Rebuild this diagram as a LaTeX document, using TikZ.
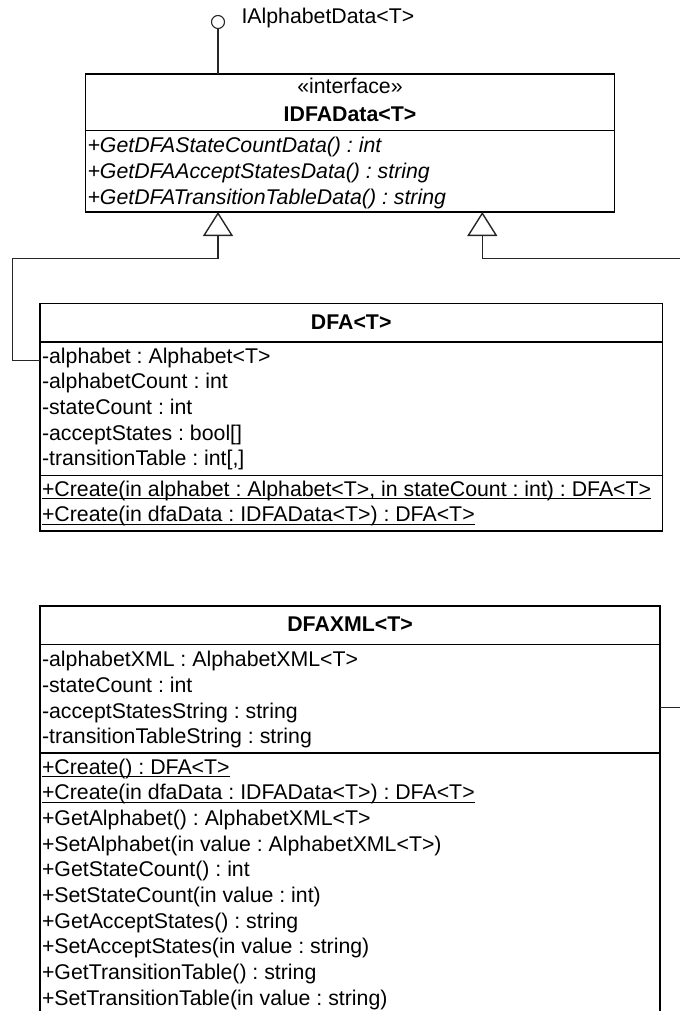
\documentclass[tikz,border=0pt]{standalone}
\usepackage{fontspec}
\setmainfont{Liberation Sans}
\usetikzlibrary{arrows.meta}
\newcommand\stat[1]{\setbox0\hbox{#1}\rlap{\rule[-3.3pt]{\wd0}{1.1pt}}\box0}
\frenchspacing
\begin{document}
\begin{tikzpicture}[x=1pt,y=-1pt,
  box/.style={draw=black, line width=1.6pt, inner sep=0pt, outer sep=0pt, anchor=north west},
  txt/.style={anchor=base west, inner sep=0pt, outer sep=0pt, font=\fontsize{21.3pt}{25pt}\selectfont},
  ttl/.style={anchor=base, inner sep=0pt, outer sep=0pt, font=\fontsize{21.3pt}{25pt}\selectfont\bfseries},
  stereo/.style={anchor=base, inner sep=0pt, outer sep=0pt, font=\fontsize{21.3pt}{25pt}\selectfont},
  itxt/.style={txt, font=\fontsize{21.3pt}{25pt}\selectfont\itshape},
  sep/.style={line width=1.6pt},
  conn/.style={line width=1.1pt, draw=black!85},
  gen/.style={conn, -{Triangle[open, length=24pt, width=30pt, line width=1.4pt]}}
]
\useasboundingbox (0,0) rectangle (680,1011);
\clip (0,0) rectangle (680,1011);

% ---------- IDFAData ----------
\node[box, minimum width=529pt, minimum height=138pt] (idfa) at (85.5,74) {};
\draw[sep] (85.5,130.7) -- (614.5,130.7);
\node[stereo] (idfas) at (350,93.3) {«interface»};
\node[ttl] (idfat) at (350,121.7) {IDFAData<T>};
\node[itxt] (im1) at (87.5,152.7) {+GetDFAStateCountData() : int};
\node[itxt] (im2) at (87.5,178.4) {+GetDFAAcceptStatesData() : string};
\node[itxt] (im3) at (87.5,204.1) {+GetDFATransitionTableData() : string};

% lollipop
\node[draw=black!85, circle, minimum size=13pt, inner sep=0pt, line width=1.1pt] (lol) at (218,22) {};
\node[txt] (lbl) at (241.5,24) {IAlphabetData<T>};
\draw[conn] (lol.south) -- (lol.south |- idfa.north);

% ---------- DFA ----------
\node[box, minimum width=622.5pt, minimum height=227.7pt] (dfa) at (40,303.3) {};
\draw[sep] (40,341.7) -- (662.5,341.7);
\draw[sep] (40,475.3) -- (662.5,475.3);
\node[ttl] (dfat) at (351.2,329) {DFA<T>};
\node[txt] (da1) at (42,363) {-alphabet : Alphabet<T>};
\node[txt] (da2) at (42,388.6) {-alphabetCount : int};
\node[txt] (da3) at (42,414.3) {-stateCount : int};
\node[txt] (da4) at (42,440) {-acceptStates : bool[]};
\node[txt] (da5) at (42,465.6) {-transitionTable : int[,]};
\node[txt] (dm1) at (42,496) {\stat{+Create(in alphabet : Alphabet<T>, in stateCount : int) : DFA<T>}};
\node[txt] (dm2) at (42,521.7) {\stat{+Create(in dfaData : IDFAData<T>) : DFA<T>}};

% ---------- DFAXML ----------
\node[box, minimum width=620pt, minimum height=450pt] (dfaxml) at (40,606) {};
\draw[sep] (40,644.3) -- (660,644.3);
\draw[sep] (40,752.7) -- (660,752.7);
\node[ttl] (xt) at (350,631.7) {DFAXML<T>};
\node[txt] (xa1) at (42,666.7) {-alphabetXML : AlphabetXML<T>};
\node[txt] (xa2) at (42,692.4) {-stateCount : int};
\node[txt] (xa3) at (42,718) {-acceptStatesString : string};
\node[txt] (xa4) at (42,743.7) {-transitionTableString : string};
\node[txt] (xm1) at (42,774) {\stat{+Create() : DFA<T>}};
\node[txt] (xm2) at (42,799.7) {\stat{+Create(in dfaData : IDFAData<T>) : DFA<T>}};
\node[txt] (xm3) at (42,825.4) {+GetAlphabet() : AlphabetXML<T>};
\node[txt] (xm4) at (42,851) {+SetAlphabet(in value : AlphabetXML<T>)};
\node[txt] (xm5) at (42,876.8) {+GetStateCount() : int};
\node[txt] (xm6) at (42,902.5) {+SetStateCount(in value : int)};
\node[txt] (xm7) at (42,928.2) {+GetAcceptStates() : string};
\node[txt] (xm8) at (42,953.9) {+SetAcceptStates(in value : string)};
\node[txt] (xm9) at (42,979.6) {+GetTransitionTable() : string};
\node[txt] (xm10) at (42,1005.3) {+SetTransitionTable(in value : string)};

% ---------- connectors ----------
\coordinate (t1) at (218,212);
\coordinate (t2) at (482.3,212);
\coordinate (r1) at (680,258.3);
\coordinate (r2) at (680,707.5);
\draw[gen] (dfa.west |- 0,360.7) -- (12.3,360.7) -- (12.3,258.3) -- (218,258.3) -- (t1);
\draw[gen] (r1) -- (482.3,258.3) -- (t2);
\draw[conn] (dfaxml.east |- r2) -- (r2);
\end{tikzpicture}
\end{document}
